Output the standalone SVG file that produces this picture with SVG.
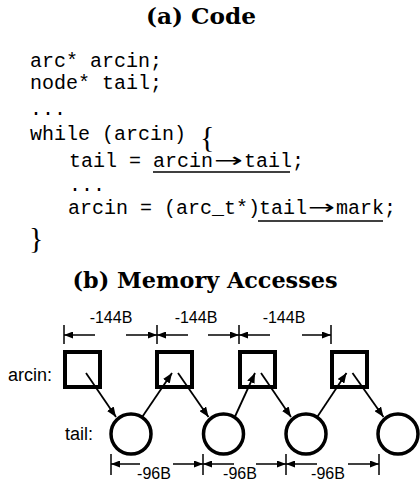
<svg xmlns="http://www.w3.org/2000/svg" width="420" height="483" viewBox="0 0 420 483">
<style>
.title{font-family:"DejaVu Serif","Liberation Serif",serif;font-weight:bold;font-size:22px;fill:#000}
.code{font-family:"Liberation Mono","DejaVu Sans Mono",monospace;font-size:20px;fill:#000}
.brace{font-family:"Liberation Serif",serif;font-size:30px;fill:#000}
.arr{font-family:"DejaVu Sans",sans-serif;font-size:20px;fill:#000}
.lbl{font-family:"Liberation Sans",Arial,sans-serif;font-size:18px;fill:#000}
.dim{font-family:"Liberation Sans",Arial,sans-serif;font-size:16px;fill:#000;text-anchor:middle}
.ul{stroke:#000;stroke-width:1.6}
.sq{fill:#fff;stroke:#000;stroke-width:4}
.ci{fill:#fff;stroke:#000;stroke-width:3.5}
.link{stroke:#000;stroke-width:1.8;fill:none;marker-end:url(#ah)}
.dl{stroke:#000;stroke-width:1.5;fill:none;marker-end:url(#dh)}
.tick{stroke:#000;stroke-width:1.5}
</style>
<defs>
<marker id="ah" viewBox="0 0 10 8" refX="10" refY="4" markerWidth="10" markerHeight="8" markerUnits="userSpaceOnUse" orient="auto"><path d="M0,0 L10,4 L0,8 z" fill="#000"/></marker>
<marker id="dh" viewBox="0 0 9 7" refX="9" refY="3.5" markerWidth="9" markerHeight="7" markerUnits="userSpaceOnUse" orient="auto"><path d="M0,0 L9,3.5 L0,7 z" fill="#000"/></marker>
</defs>

<g id="code-panel">
<text class="title" x="201" y="24" text-anchor="middle" textLength="110" lengthAdjust="spacingAndGlyphs">(a) Code</text>
<text class="code" x="30" y="67" xml:space="preserve">arc* arcin;</text>
<text class="code" x="30" y="89" xml:space="preserve">node* tail;</text>
<text class="code" x="30" y="115">...</text>
<text class="code" x="30" y="140" xml:space="preserve">while (arcin)</text>
<text class="brace" x="200" y="147">{</text>
<text class="code" y="167" xml:space="preserve"><tspan x="69">tail =</tspan><tspan x="153">arcin</tspan><tspan x="244">tail</tspan><tspan x="292">;</tspan></text>
<text class="arr" x="214" y="167" textLength="29" lengthAdjust="spacingAndGlyphs">→</text>
<line class="ul" x1="153" y1="172" x2="290" y2="172"/>
<text class="code" x="69" y="191">...</text>
<text class="code" y="214" xml:space="preserve"><tspan x="68">arcin = (arc_t*)</tspan><tspan x="259">tail</tspan><tspan x="336">mark</tspan><tspan x="384">;</tspan></text>
<text class="arr" x="308" y="214" textLength="27" lengthAdjust="spacingAndGlyphs">→</text>
<line class="ul" x1="258" y1="221" x2="383" y2="221"/>
<text class="brace" x="29" y="248">}</text>
</g>

<g id="memory-title">
<text class="title" x="205" y="288" text-anchor="middle" textLength="265" lengthAdjust="spacingAndGlyphs">(b) Memory Accesses</text>
</g>

<g id="row-labels">
<text class="lbl" x="8" y="381">arcin:</text>
<text class="lbl" x="65" y="440">tail:</text>
</g>

<g id="arcin1"><rect class="sq" x="65" y="352" width="35" height="35"/></g>
<g id="arcin2"><rect class="sq" x="157" y="352" width="35" height="35"/></g>
<g id="arcin3"><rect class="sq" x="240" y="352" width="35" height="35"/></g>
<g id="arcin4"><rect class="sq" x="332" y="352" width="35" height="35"/></g>

<g id="tail1"><circle class="ci" cx="131" cy="434" r="20"/></g>
<g id="tail2"><circle class="ci" cx="223.5" cy="434" r="20"/></g>
<g id="tail3"><circle class="ci" cx="306" cy="434" r="20"/></g>
<g id="tail4"><circle class="ci" cx="398" cy="434" r="20"/></g>

<g id="connectors">
<line class="link" x1="86" y1="373" x2="116" y2="417"/>
<line class="link" x1="142.5" y1="416.5" x2="172" y2="373"/>
<line class="link" x1="178" y1="373" x2="208.5" y2="417"/>
<line class="link" x1="235" y1="416.5" x2="255" y2="373"/>
<line class="link" x1="261" y1="373" x2="291" y2="417"/>
<line class="link" x1="317.5" y1="416.5" x2="346.5" y2="373"/>
<line class="link" x1="352.5" y1="373" x2="383.5" y2="417"/>
</g>

<g id="dimensions-top">
<line class="tick" x1="64" y1="325" x2="64" y2="344"/>
<line class="tick" x1="157" y1="325" x2="157" y2="344"/>
<line class="tick" x1="239" y1="325" x2="239" y2="344"/>
<line class="tick" x1="331" y1="325" x2="331" y2="344"/>
<line class="dl" x1="95" y1="335" x2="64" y2="335"/>
<line class="dl" x1="126" y1="335" x2="157" y2="335"/>
<line class="dl" x1="188" y1="335" x2="157" y2="335"/>
<line class="dl" x1="208" y1="335" x2="239" y2="335"/>
<line class="dl" x1="270" y1="335" x2="239" y2="335"/>
<line class="dl" x1="302" y1="335" x2="331" y2="335"/>
<text class="dim" x="111" y="323">-144B</text>
<text class="dim" x="196" y="323">-144B</text>
<text class="dim" x="284" y="323">-144B</text>
</g>

<g id="dimensions-bottom">
<line class="tick" x1="111" y1="454" x2="111" y2="475"/>
<line class="tick" x1="203" y1="454" x2="203" y2="475"/>
<line class="tick" x1="286" y1="454" x2="286" y2="475"/>
<line class="tick" x1="379" y1="454" x2="379" y2="475"/>
<line class="dl" x1="140" y1="464" x2="111" y2="464"/>
<line class="dl" x1="173" y1="464" x2="203" y2="464"/>
<line class="dl" x1="234" y1="464" x2="203" y2="464"/>
<line class="dl" x1="256" y1="464" x2="286" y2="464"/>
<line class="dl" x1="317" y1="464" x2="286" y2="464"/>
<line class="dl" x1="348" y1="464" x2="379" y2="464"/>
<text class="dim" x="154" y="479">-96B</text>
<text class="dim" x="240" y="479">-96B</text>
<text class="dim" x="328" y="479">-96B</text>
</g>
</svg>
